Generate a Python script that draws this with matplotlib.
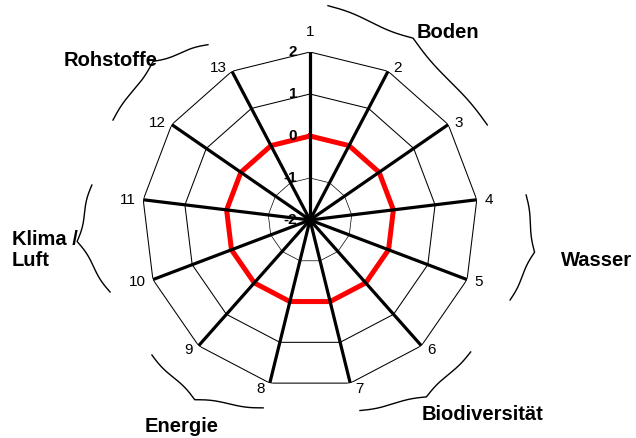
import numpy as np
import matplotlib
matplotlib.use('Agg')
import matplotlib.pyplot as plt
from matplotlib.lines import Line2D

plt.rcParams['font.family'] = ['Liberation Sans', 'DejaVu Sans']

# axes of the radar and the one series (all at 0)
categories = ['1', '2', '3', '4', '5', '6', '7', '8', '9', '10', '11', '12', '13']
values = [0, 0, 0, 0, 0, 0, 0, 0, 0, 0, 0, 0, 0]
levels = [-2, -1, 0, 1, 2]
level_labels = ['-2', '-1', '0', '1', '2']

# groups of axes, marked by curly braces
groups = ['Boden', 'Wasser', 'Biodiversität', 'Energie', 'Klima /\nLuft', 'Rohstoffe']
# brace ends as (angle deg, radius in data units), bulge px, tip position
brace_start = [(4.8, 3.12), (83.4, 3.18), (129.4, 2.95), (194.0, 2.61), (250.2, 3.06), (296.9, 3.26)]
brace_end = [(61.8, 2.79), (111.8, 3.13), (165.3, 2.69), (229.5, 2.95), (279.1, 3.26), (329.8, 2.83)]
brace_height = [25, 17, 19, 22, 24, 21]
brace_tip = [0.44, 0.52, 0.48, 0.53, 0.51, 0.56]
# label positions in pixels of the 636x438 picture
label_pos = [(448, 32), (597, 260), (482, 415), (182, 426), (12, 250), (111, 61)]
label_ha = ['center', 'center', 'center', 'center', 'left', 'center']

W, H = 636, 438
fig = plt.figure(figsize=(W / 100, H / 100), dpi=100)
fig.patch.set_facecolor('white')

cx, cy, rad = 310, 220, 168
ax = fig.add_axes([(cx - rad) / W, (H - cy - rad) / H, 2 * rad / W, 2 * rad / H],
                  projection='polar')
ax.set_theta_zero_location('N')
ax.set_theta_direction(-1)
ax.set_ylim(levels[0], levels[-1])
ax.axis('off')

n = len(categories)
angles = np.deg2rad(np.arange(n) * 360.0 / n)
closed = np.append(angles, angles[0])

# grid polygons
for lv in levels[1:]:
    ax.plot(closed, [lv] * (n + 1), color='black', lw=0.5 if lv == -1 else 0.75, zorder=1)

# the series
ax.plot(closed, values + values[:1], color='red', lw=3.6, zorder=2)

# spokes
for a in angles:
    ax.plot([a, a], [levels[0], levels[-1]], color='black', lw=2.3, zorder=3,
            solid_capstyle='butt')

# radial scale labels
for lv, txt in zip(levels, level_labels):
    ax.annotate(txt, xy=(0, lv), xytext=(-13, 0), textcoords='offset pixels',
                ha='right', va='center', fontsize=11, fontweight='bold',
                annotation_clip=False, zorder=4)

# axis labels
for a, cat in zip(angles, categories):
    s, c = np.sin(a), np.cos(a)
    if abs(s) < 1e-6:
        off, ha = (0, 20), 'center'
    else:
        dx = 8 - 3 * abs(c)
        off = (dx if s > 0 else -dx, 5 * c - 1)
        ha = 'left' if s > 0 else 'right'
    ax.annotate(cat, xy=(a, levels[-1]), xytext=off, textcoords='offset pixels',
                ha=ha, va='center', fontsize=11, annotation_clip=False)


def half_brace(v, k=5.5):
    y = 1 / (1 + np.exp(-k * v)) + 1 / (1 + np.exp(-k * (v - 1)))
    y0 = 1 / (1 + np.exp(0)) + 1 / (1 + np.exp(k))
    y1 = 1 / (1 + np.exp(-k)) + 1 / (1 + np.exp(0))
    return (y - y0) / (y1 - y0)


center = ax.transData.transform((0, levels[0]))
to_fig = fig.transFigure.inverted()
for st, en, h, tip in zip(brace_start, brace_end, brace_height, brace_tip):
    p0 = ax.transData.transform((np.deg2rad(st[0]), st[1]))
    p1 = ax.transData.transform((np.deg2rad(en[0]), en[1]))
    d = p1 - p0
    u = d / np.hypot(*d)
    nrm = np.array([-u[1], u[0]])
    if np.dot(nrm, (p0 + p1) / 2 - center) < 0:
        nrm = -nrm
    s1 = np.linspace(0, tip, 120)
    s2 = np.linspace(tip, 1, 120)
    s = np.concatenate([s1, s2])
    y = np.concatenate([half_brace(s1 / tip), half_brace((1 - s2) / (1 - tip))])
    pts = p0 + np.outer(s, d) + np.outer(h * y, nrm)
    pf = to_fig.transform(pts)
    fig.add_artist(Line2D(pf[:, 0], pf[:, 1], transform=fig.transFigure,
                          color='black', lw=1.0))

# group names
for name, (x, y), ha in zip(groups, label_pos, label_ha):
    fig.text(x / W, 1 - y / H, name, ha=ha, va='center', fontsize=14.5,
             fontweight='bold', linespacing=1.13)

fig.savefig('out.png', dpi=100)
